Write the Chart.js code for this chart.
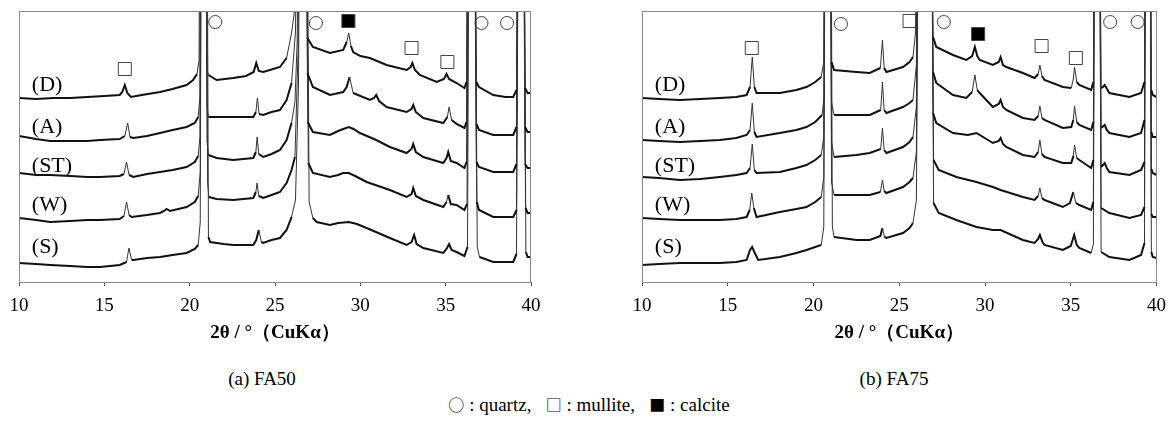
<!DOCTYPE html>
<html lang="en">
<head>
<meta charset="UTF-8">
<title>XRD FA50 / FA75</title>
<script src="https://cdn.jsdelivr.net/npm/chart.js"></script>
<style>
  body { margin: 0; background: #fff; width: 1175px; height: 423px; position: relative; overflow: hidden;
         font-family: "Liberation Serif", "DejaVu Serif", serif; color: #000; }
  .panel { position: absolute; top: 0; }
  .caption { position: absolute; top: 368px; font-size: 19px; white-space: nowrap; transform: translateX(-50%); }
  #legend { position: absolute; top: 392px; left: 589px; transform: translateX(-50%); font-size: 19px; white-space: nowrap; }
  .sym { font-family: "Noto Sans CJK JP", sans-serif; font-size: 16px; }
</style>
<script>
// 2θ (deg) / intensity (a.u., stacked)
const fa50_D = [[10,184],[11,183],[12,184],[13,184],[14,185],[15,186],[15.9,187],[16.05,190],[16.2,197],[16.35,189],[16.56,185],[17.2,187],[18.26,190],[19,193],[19.82,197],[20.2,202],[20.43,208],[20.55,222],[20.65,600],[20.9,600],[21.0,214],[21.1,207],[21.58,202],[22.55,204],[23.3,206],[23.75,210],[23.9,219],[24.05,211],[24.31,210],[24.7,212],[25.29,215],[25.68,224],[25.97,249],[26.12,268],[26.45,600],[26.75,600],[26.9,244],[27.22,235],[28.22,229],[29.0,232],[29.2,240],[29.32,249],[29.45,236],[29.58,230],[30.0,226],[30.56,224],[31.54,217],[32.71,212],[32.95,215],[33.05,219],[33.2,212],[33.49,207],[34.47,200],[34.9,203],[35.05,208],[35.2,203],[35.64,199],[36.1,194],[36.22,200],[36.38,600],[36.6,600],[36.8,200],[36.95,195],[37.79,187],[38.5,185],[38.96,185],[39.15,192],[39.3,600],[39.5,600],[39.65,194],[39.8,189],[40,189]];
const fa50_A = [[10,146],[11,143],[11.82,141],[13,141],[14,141],[14.75,142],[15.9,143],[16.2,146],[16.37,159],[16.5,145],[16.7,144],[17.5,146],[18.26,149],[19,152],[19.82,155],[20.3,159],[20.5,165],[20.6,185],[20.68,600],[20.92,600],[21.02,175],[21.1,165],[21.58,165],[22.55,165],[23.73,165],[23.88,170],[23.97,184],[24.07,168],[24.31,167],[24.8,170],[25.29,172],[25.68,182],[25.97,199],[26.2,250],[26.45,600],[26.77,600],[26.9,209],[27.22,195],[28.22,187],[29.0,190],[29.2,195],[29.37,205],[29.58,189],[30.56,182],[30.8,184],[30.93,187],[31.1,181],[31.54,175],[32.71,170],[33.0,173],[33.1,177],[33.25,170],[33.69,164],[34.86,159],[35.1,165],[35.2,175],[35.35,162],[35.64,158],[36.1,154],[36.22,160],[36.38,600],[36.6,600],[36.8,158],[36.95,152],[37.79,147],[38.96,147],[39.15,155],[39.3,600],[39.5,600],[39.65,155],[39.8,150],[40,150]];
const fa50_ST = [[10,109],[11,107],[11.82,107],[13,106],[14,105],[14.75,105],[15.9,106],[16.15,108],[16.3,120],[16.45,107],[16.7,105],[17.5,108],[18.26,110],[19,112],[19.82,115],[20.3,120],[20.5,126],[20.6,145],[20.68,600],[20.92,600],[21.02,140],[21.1,127],[21.58,124],[22.55,122],[23.73,124],[23.88,130],[23.95,145],[24.05,128],[24.31,125],[24.8,128],[25.29,132],[25.68,142],[25.97,159],[26.17,180],[26.3,240],[26.47,600],[26.78,600],[26.92,160],[27.22,150],[28.22,147],[28.7,151],[29.0,153],[29.32,155],[29.6,153],[29.98,149],[30.93,142],[31.73,135],[32.71,129],[33.0,133],[33.1,138],[33.25,130],[33.69,125],[34.86,119],[35.05,124],[35.15,130],[35.3,121],[35.64,119],[36.1,114],[36.22,120],[36.38,600],[36.6,600],[36.8,120],[36.95,115],[37.79,110],[38.96,110],[39.15,118],[39.3,600],[39.5,600],[39.65,118],[39.8,114],[40,114]];
const fa50_W = [[10,64],[11,62],[11.82,60],[13,61],[14,62],[14.75,62],[15.9,63],[16.15,66],[16.3,80],[16.45,67],[16.6,65],[17.5,67],[18.26,69],[18.5,71],[18.65,73],[18.85,71],[19.82,75],[20.3,80],[20.5,86],[20.62,110],[20.7,600],[20.95,600],[21.05,100],[21.12,85],[21.58,83],[22.55,82],[23.73,84],[23.88,90],[23.95,99],[24.05,86],[24.31,84],[24.8,87],[25.29,90],[25.68,99],[25.97,112],[26.17,125],[26.35,230],[26.48,600],[26.8,600],[26.95,119],[27.22,109],[28.22,105],[28.7,107],[29.0,109],[29.32,109],[29.7,106],[30.37,100],[31.73,92],[32.71,85],[33.0,88],[33.1,94],[33.25,86],[33.69,82],[34.86,75],[35.05,80],[35.15,87],[35.3,78],[35.64,77],[36.1,72],[36.25,78],[36.4,600],[36.62,600],[36.82,80],[36.95,72],[37.79,65],[38.96,65],[39.15,72],[39.3,600],[39.52,600],[39.68,74],[39.8,69],[40,69]];
const fa50_S = [[10,19],[11,18],[11.82,17],[13,16],[14,15],[14.75,15],[15.9,17],[16.3,20],[16.44,34],[16.6,22],[16.7,22],[17.5,24],[18.26,25],[19,27],[19.82,29],[20.3,33],[20.5,37],[20.62,60],[20.72,600],[20.98,600],[21.1,45],[21.2,40],[22,38],[22.55,37],[23.73,37],[23.9,42],[24.05,52],[24.2,40],[24.31,39],[24.8,42],[25.29,44],[25.68,52],[25.97,65],[26.2,82],[26.38,200],[26.5,600],[26.82,600],[27.0,80],[27.22,64],[27.44,60],[28.22,57],[28.7,59],[29.32,60],[29.8,58],[30.37,54],[31.73,44],[32.71,37],[33.0,40],[33.15,47],[33.3,38],[33.69,34],[34.86,29],[35.05,33],[35.2,38],[35.35,32],[35.64,30],[36.1,26],[36.28,35],[36.42,600],[36.65,600],[36.85,35],[36.98,25],[37.79,20],[38.96,20],[39.15,28],[39.32,600],[39.55,600],[39.7,30],[39.8,25],[40,25]];

const fa75_D = [[10,184],[11,183],[12.21,182],[13.4,183],[14.54,184],[15.5,185],[16.1,187],[16.3,195],[16.43,225],[16.55,195],[16.68,189],[18.04,189],[19.0,192],[19.59,195],[20.1,200],[20.45,205],[20.6,220],[20.7,600],[20.95,600],[21.05,220],[21.2,212],[22.5,210],[23.28,209],[23.9,214],[24.02,242],[24.12,214],[24.25,210],[25.22,215],[25.6,220],[25.8,225],[25.95,250],[26.1,600],[26.75,600],[26.97,245],[27.16,235],[28.13,227],[28.91,222],[29.25,226],[29.41,235],[29.55,226],[29.69,222],[30.46,217],[30.8,220],[30.91,225],[31.05,217],[31.24,215],[32.21,209],[32.89,204],[33.1,208],[33.2,217],[33.32,206],[33.47,202],[34.54,195],[35.03,194],[35.15,203],[35.22,215],[35.35,200],[35.5,197],[36.19,192],[36.32,200],[36.42,600],[36.62,600],[36.77,194],[36.88,195],[36.98,197],[37.25,189],[38.42,185],[39.1,189],[39.3,200],[39.38,600],[39.58,600],[39.7,192],[39.78,187],[40,185]];
const fa75_A = [[10,142],[11,141],[12.21,140],[13.4,141],[14.54,142],[15.5,144],[16.1,147],[16.3,152],[16.43,179],[16.55,150],[16.68,145],[18.04,149],[19.0,152],[19.59,155],[20.1,160],[20.5,167],[20.62,185],[20.7,600],[20.95,600],[21.05,180],[21.2,167],[22.5,167],[23.28,167],[23.92,172],[24.02,200],[24.12,172],[24.25,169],[25.22,175],[25.6,179],[25.8,182],[26.0,217],[26.12,600],[26.78,600],[26.97,210],[27.16,199],[28.13,187],[28.91,184],[29.25,190],[29.41,207],[29.55,192],[29.69,189],[30.46,175],[30.8,178],[30.91,182],[31.05,175],[31.24,172],[32.21,164],[32.89,162],[33.1,166],[33.2,176],[33.32,164],[33.47,162],[34.54,154],[35.03,155],[35.15,162],[35.22,176],[35.35,160],[35.5,157],[36.19,152],[36.32,160],[36.42,600],[36.62,600],[36.77,154],[36.98,157],[37.1,152],[37.25,149],[38.42,145],[39.1,149],[39.3,162],[39.38,600],[39.58,600],[39.7,150],[39.78,145],[40,145]];
const fa75_ST = [[10,105],[11,104],[12.21,102],[13.4,103],[14.54,105],[15.5,107],[16.1,109],[16.3,114],[16.43,138],[16.55,112],[16.68,109],[18.04,110],[19.0,114],[19.59,117],[20.1,122],[20.45,127],[20.6,145],[20.7,600],[20.95,600],[21.05,140],[21.2,125],[22.5,127],[23.28,129],[23.92,133],[24.02,154],[24.12,132],[24.25,129],[25.22,135],[25.6,140],[25.8,145],[26.0,175],[26.15,600],[26.8,600],[26.97,169],[27.16,159],[28.13,149],[29.0,147],[29.5,149],[30.46,139],[30.8,141],[30.91,144],[31.05,138],[31.24,135],[32.21,127],[32.89,125],[33.1,130],[33.2,142],[33.32,128],[33.47,125],[34.54,119],[35.03,119],[35.15,126],[35.22,137],[35.35,124],[35.5,122],[36.19,114],[36.32,122],[36.42,600],[36.62,600],[36.77,115],[36.98,119],[37.1,114],[37.25,110],[38.42,107],[39.1,112],[39.3,120],[39.38,600],[39.58,600],[39.7,113],[39.78,109],[40,107]];
const fa75_W = [[10,64],[11,63],[12.21,62],[13.4,62],[14.54,62],[15.5,63],[16.1,65],[16.28,72],[16.4,89],[16.52,74],[16.68,65],[18.04,70],[19.0,73],[19.59,75],[20.1,80],[20.45,85],[20.6,105],[20.7,600],[20.95,600],[21.05,100],[21.2,87],[22.5,87],[23.28,87],[23.9,90],[24.02,102],[24.12,91],[24.25,89],[25.22,95],[25.6,100],[25.8,104],[26.0,130],[26.18,600],[26.82,600],[27.0,122],[27.3,112],[28.33,105],[29.5,100],[30.46,95],[30.91,92],[32.21,85],[32.89,82],[33.1,86],[33.2,94],[33.32,84],[33.47,82],[34.54,75],[34.95,79],[35.15,90],[35.3,79],[35.5,77],[36.19,72],[36.32,80],[36.42,600],[36.62,600],[36.77,74],[37.25,69],[38.42,64],[39.1,67],[39.3,75],[39.38,600],[39.58,600],[39.7,68],[39.78,65],[40,65]];
const fa75_S = [[10,17],[11,18],[12.21,19],[13.4,19],[14.54,19],[15.5,20],[16.1,22],[16.3,32],[16.42,35],[16.55,30],[16.78,22],[18.04,25],[19.0,29],[19.59,32],[20.1,35],[20.45,37],[20.6,55],[20.72,600],[20.98,600],[21.1,55],[21.2,45],[22.5,42],[23.28,42],[23.9,46],[24.02,54],[24.14,45],[24.25,44],[25.22,49],[25.6,54],[25.8,59],[26.0,82],[26.2,600],[26.85,600],[27.0,79],[27.3,69],[28.33,62],[29.5,55],[30.46,52],[30.91,52],[32.21,42],[32.89,39],[33.1,43],[33.2,47],[33.35,40],[33.47,37],[34.54,32],[35.0,36],[35.2,47],[35.35,37],[35.5,34],[36.19,29],[36.32,38],[36.42,600],[36.64,600],[36.77,30],[37.25,25],[38.42,22],[39.1,27],[39.3,39],[39.38,600],[39.6,600],[39.7,30],[39.78,25],[40,24]];

const sampleNames = ['(D)', '(A)', '(ST)', '(W)', '(S)'];
const sampleLabelY = [197, 155, 116, 77, 35];
const labelX = 10.75;

// phase markers: q = quartz, m = mullite, c = calcite
const fa50_markX = [16.2, 21.5, 27.4, 29.3, 33.0, 35.1, 37.1, 38.6];
const fa50_markY = [213, 260, 259, 261, 234, 220, 259, 259];
const fa50_markType = ['m', 'q', 'q', 'c', 'm', 'm', 'q', 'q'];
const fa75_markX = [16.4, 21.6, 25.6, 27.6, 29.6, 33.3, 35.3, 37.3, 38.9];
const fa75_markY = [234, 258, 261, 260, 248, 236, 224, 260, 260];
const fa75_markType = ['m', 'q', 'm', 'q', 'c', 'm', 'm', 'q', 'q'];

const xTicks = [10, 15, 20, 25, 30, 35, 40];
</script>
</head>
<body>
<div class="panel" style="left:0px"><canvas id="c50" width="560" height="350"></canvas></div>
<div class="panel" style="left:590px"><canvas id="c75" width="585" height="350"></canvas></div>
<div class="caption" style="left:262px">(a) FA50</div>
<div class="caption" style="left:894px">(b) FA75</div>
<div id="legend"><span class="sym">○</span> : quartz,&nbsp;&nbsp;&nbsp;<span class="sym">□</span> : mullite,&nbsp;&nbsp;&nbsp;<span class="sym">■</span> : calcite</div>

<script>
Chart.defaults.font.family = '"Liberation Serif", "Times New Roman", serif';
Chart.defaults.color = '#000';

// box around the plot area
const frame = {
    id: 'frame',
    afterDraw(chart) {
        const a = chart.chartArea, ctx = chart.ctx;
        ctx.save();
        ctx.strokeStyle = '#8a8a8a';
        ctx.lineWidth = 1;
        ctx.strokeRect(Math.round(a.left) + 0.5, Math.round(a.top) + 0.5, Math.round(a.right - a.left) - 1, Math.round(a.bottom - a.top));
        ctx.restore();
    }
};

// (D) (A) ... written next to each trace
const traceLabels = {
    id: 'traceLabels',
    afterDatasetsDraw(chart) {
        const ctx = chart.ctx, xs = chart.scales.x, ys = chart.scales.y;
        ctx.save();
        ctx.font = '22px "Liberation Serif", serif';
        ctx.fillStyle = '#000';
        ctx.textAlign = 'left';
        ctx.textBaseline = 'middle';
        sampleNames.forEach((n, i) => ctx.fillText(n, xs.getPixelForValue(labelX), ys.getPixelForValue(sampleLabelY[i])));
        ctx.restore();
    }
};

function steep(c) {
    return Math.abs(c.p1.y - c.p0.y) > 4 * Math.abs(c.p1.x - c.p0.x);
}

function makeChart(id, traces, mx, my, mt, pad) {
    const styleOf = { q: 'circle', m: 'rect', c: 'rect' };
    const radiusOf = { q: 6.5, m: 9.2, c: 9.2 };
    const datasets = traces.map(t => ({
        type: 'line',
        data: t,
        borderColor: '#111',
        borderWidth: 2,
        pointRadius: 0,
        tension: 0,
        segment: {
            borderWidth: c => steep(c) ? 1 : 2,
            borderColor: c => steep(c) ? '#333' : '#111'
        }
    }));
    datasets.push({
        type: 'scatter',
        data: mx.map((x, i) => ({ x: x, y: my[i] })),
        pointStyle: mt.map(t => styleOf[t]),
        pointRadius: mt.map(t => radiusOf[t]),
        pointBackgroundColor: mt.map(t => t === 'c' ? '#000' : '#fff'),
        pointBorderColor: '#444',
        pointBorderWidth: 1
    });

    return new Chart(document.getElementById(id), {
        type: 'line',
        data: { datasets: datasets },
        options: {
            responsive: false,
            animation: false,
            events: [],
            layout: { padding: pad },
            plugins: { legend: { display: false }, tooltip: { enabled: false } },
            scales: {
                x: {
                    type: 'linear',
                    min: 10, max: 40,
                    afterBuildTicks: s => { s.ticks = xTicks.map(v => ({ value: v })); },
                    afterFit: s => { s.height = 68; },
                    grid: { drawOnChartArea: false, drawTicks: true, tickLength: 4, color: '#555' },
                    border: { display: true, color: '#555', width: 1 },
                    ticks: { padding: 9, font: { size: 19 }, color: '#000', maxRotation: 0 },
                    title: {
                        display: true,
                        text: '2θ / °（CuKα）',
                        font: { size: 19, weight: 'bold' },
                        padding: { top: 0, bottom: 6 },
                        color: '#000'
                    }
                },
                y: { display: false, min: 0, max: 271 }
            }
        },
        plugins: [frame, traceLabels]
    });
}

makeChart('c50', [fa50_D, fa50_A, fa50_ST, fa50_W, fa50_S], fa50_markX, fa50_markY, fa50_markType,
          { left: 19, right: 29, top: 11, bottom: 0 });
makeChart('c75', [fa75_D, fa75_A, fa75_ST, fa75_W, fa75_S], fa75_markX, fa75_markY, fa75_markType,
          { left: 52, right: 18, top: 11, bottom: 0 });
</script>
</body>
</html>
